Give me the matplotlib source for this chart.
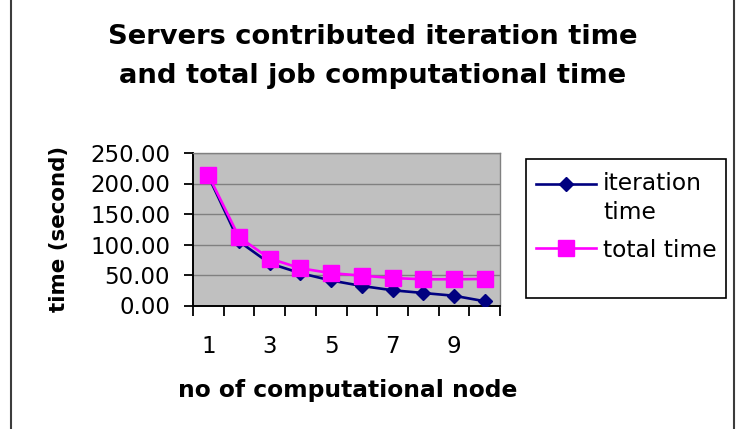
import matplotlib
matplotlib.use("Agg")
import matplotlib.pyplot as plt
import numpy as np
from matplotlib.lines import Line2D
from matplotlib.patches import Rectangle
from matplotlib.ticker import FormatStrFormatter
from matplotlib.legend_handler import HandlerLine2D

# data
nodes = [1, 2, 3, 4, 5, 6, 7, 8, 9, 10]
iteration_time = [212, 105, 69, 53, 41, 32, 25, 20.5, 16, 7]
total_time = [214, 112, 77, 61, 53, 49, 45, 43, 43, 43.5]
node_labels = ['1', '3', '5', '7', '9']

plt.rcParams['font.family'] = ['DejaVu Sans']

W, H = 751, 429
fig = plt.figure(figsize=(W / 100, H / 100), dpi=100)


def fx(px):
    return px / W


def fy(py):
    return 1 - py / H


# plot area
ax = fig.add_axes([fx(193), fy(305.5), fx(500) - fx(193), fy(153) - fy(305.5)])
ax.set_facecolor('#c0c0c0')

line_it, = ax.plot(nodes, iteration_time, color='#000080', marker='D', ms=7.5, lw=1.9,
                   label='iteration\ntime', zorder=3)
line_tot, = ax.plot(nodes, total_time, color='#ff00ff', marker='s', ms=11.5, lw=1.9,
                    label='total time', zorder=4)

ax.set_xlim(0.5, 10.5)
ax.set_ylim(0, 250)
ax.set_yticks(range(0, 251, 50))
ax.yaxis.set_major_formatter(FormatStrFormatter('%.2f'))
ax.yaxis.grid(True, color='#808080', lw=1)
ax.set_axisbelow(True)

# ticks between categories, labels on odd categories
ax.set_xticks(np.arange(0.5, 11, 1))
ax.set_xticklabels([])
ax.set_xticks([1, 3, 5, 7, 9], minor=True)
ax.set_xticklabels(node_labels, minor=True)
ax.tick_params(axis='x', which='major', direction='out', length=7, width=1.3)
ax.tick_params(axis='x', which='minor', length=0, pad=21, labelsize=16.5)
ax.tick_params(axis='y', direction='out', length=6.5, width=1.3, pad=10, labelsize=16.5)

for s in ['left', 'bottom']:
    ax.spines[s].set_color('black')
    ax.spines[s].set_linewidth(1.4)
for s in ['top', 'right']:
    ax.spines[s].set_color('#808080')
    ax.spines[s].set_linewidth(1)

# titles and axis labels
fig.text(fx(372.5), fy(44), 'Servers contributed iteration time', ha='center', va='baseline',
         fontsize=19.7, fontweight='bold')
fig.text(fx(372.5), fy(83), 'and total job computational time', ha='center', va='baseline',
         fontsize=19.7, fontweight='bold')
fig.text(fx(348), fy(396.7), 'no of computational node', ha='center', va='baseline',
         fontsize=16.8, fontweight='bold')
fig.text(fx(58.5), fy(229), 'time (second)', ha='center', va='center', rotation=90,
         fontsize=15.4, fontweight='bold')


class UpHandler(HandlerLine2D):
    # keep the handle level with the first line of a two-line label
    def __init__(self, shift, **kw):
        super().__init__(**kw)
        self.shift = shift

    def create_artists(self, legend, orig_handle, xdescent, ydescent, width, height, fontsize, trans):
        return super().create_artists(legend, orig_handle, xdescent, ydescent - self.shift,
                                      width, height, fontsize, trans)


leg_fs = 16.8
leg = ax.legend(handles=[line_it, line_tot], loc='upper left',
                bbox_to_anchor=(fx(536), fy(172)), bbox_transform=fig.transFigure,
                frameon=False, borderpad=0, borderaxespad=0, fontsize=leg_fs,
                handlelength=2.57, handletextpad=0.3, labelspacing=0.63,
                handler_map={line_it: UpHandler(1.25 * leg_fs)})
for t in leg.get_texts():
    t.set_linespacing(1.33)

fig.add_artist(Rectangle((fx(526), fy(298)), fx(726) - fx(526), fy(159) - fy(298),
                         transform=fig.transFigure, fill=False, edgecolor='black', lw=1.2))

# outer frame edges
for xp in [10.5, 733.5]:
    fig.add_artist(Line2D([fx(xp), fx(xp)], [0, 1], transform=fig.transFigure,
                          color='#3c3c3c', lw=1.5))

fig.savefig('out.png', dpi=100)
